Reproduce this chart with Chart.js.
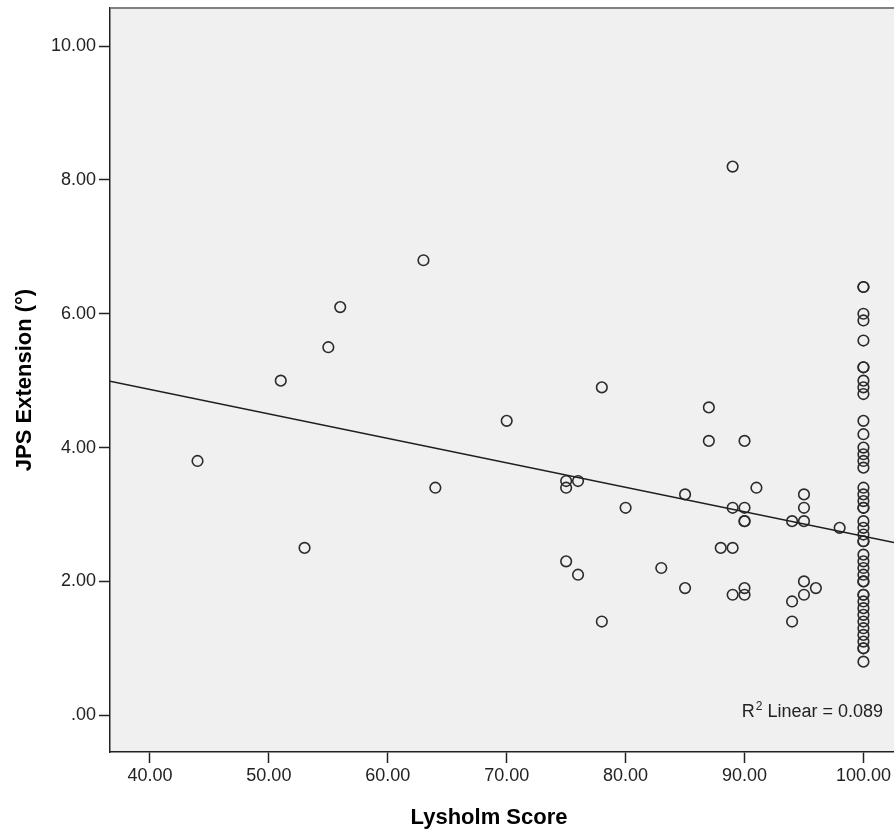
<!DOCTYPE html>
<html>
<head>
<meta charset="utf-8">
<script src="https://cdn.jsdelivr.net/npm/chart.js@4.4.1/dist/chart.umd.min.js"></script>
<style>
  html, body { margin: 0; padding: 0; background: #ffffff; }
  #wrap { width: 894px; height: 834px; }
</style>
</head>
<body>
<div id="wrap"><canvas id="scatterChart" width="894" height="834"></canvas></div>
<script>
// Lysholm score vs JPS extension
const lysholm = [
    44, 51, 53, 55, 56, 63, 64, 70, 75, 75, 75, 76, 76, 78, 78, 80, 83, 85, 85,
    87, 87, 88, 89, 89, 89, 89, 90, 90, 90, 90, 90, 90, 91, 94, 94, 94,
    95, 95, 95, 95, 95, 96, 98
];
const jpsExt = [
    3.8, 5.0, 2.5, 5.5, 6.1, 6.8, 3.4, 4.4, 3.5, 3.4, 2.3, 3.5, 2.1, 4.9, 1.4, 3.1, 2.2, 3.3, 1.9,
    4.6, 4.1, 2.5, 8.2, 3.1, 2.5, 1.8, 4.1, 3.1, 2.9, 2.9, 1.9, 1.8, 3.4, 2.9, 1.7, 1.4,
    3.3, 3.1, 2.9, 2.0, 1.8, 1.9, 2.8
];
// everyone with a full score of 100
const fullScoreJps = [
    6.4, 6.4, 6.0, 5.9, 5.6, 5.2, 5.2, 5.0, 4.9, 4.8, 4.4, 4.2, 4.0, 3.9, 3.8, 3.7,
    3.4, 3.3, 3.2, 3.1, 3.1, 2.9, 2.8, 2.7, 2.6, 2.6, 2.4, 2.3, 2.2, 2.1, 2.0, 2.0,
    1.8, 1.8, 1.7, 1.6, 1.5, 1.4, 1.3, 1.2, 1.1, 1.0, 1.0, 0.8
];

// fit line ends, at the edges of the plot
const fitX = [36.64, 102.57];
const fitY = [4.99, 2.58];

const xTicks = [40, 50, 60, 70, 80, 90, 100];
const yTicks = [0, 2, 4, 6, 8, 10];
const xRange = [36.64, 102.57];
const yRange = [-0.55, 10.57];

const rSquared = '0.089';

const points = lysholm.map((x, i) => ({ x: x, y: jpsExt[i] }))
    .concat(fullScoreJps.map(y => ({ x: 100, y: y })));
const fitLine = fitX.map((x, i) => ({ x: x, y: fitY[i] }));

const FONT = "'Liberation Sans', Arial, sans-serif";

function fmtTick(v) {
    return v === 0 ? '.00' : v.toFixed(2);
}

// no extra room for tick labels, the frame goes to the edges
function noPad(s) {
    s.paddingTop = 0;
    s.paddingBottom = 0;
    s.paddingLeft = 0;
    s.paddingRight = 0;
}

// background, frame top, titles and R2 note
const spssLook = {
    id: 'spssLook',
    beforeDraw(chart) {
        const { ctx, chartArea: a } = chart;
        ctx.save();
        ctx.fillStyle = '#f0f0f0';
        ctx.fillRect(a.left, a.top, a.right - a.left, a.bottom - a.top);
        ctx.restore();
    },
    afterDraw(chart) {
        const { ctx, chartArea: a } = chart;
        ctx.save();
        // top edge of the frame is grey
        ctx.strokeStyle = '#808080';
        ctx.lineWidth = 2;
        ctx.beginPath();
        ctx.moveTo(a.left, a.top);
        ctx.lineTo(a.right, a.top);
        ctx.stroke();

        // axis titles
        ctx.fillStyle = '#000';
        ctx.font = 'bold 22px ' + FONT;
        ctx.textAlign = 'center';
        ctx.textBaseline = 'alphabetic';
        ctx.fillText('Lysholm Score', 489, 824);

        ctx.translate(31, 380);
        ctx.rotate(-Math.PI / 2);
        ctx.fillText('JPS Extension (°)', 0, 0);
        ctx.setTransform(1, 0, 0, 1, 0, 0);

        // R2 Linear note
        const right = a.right - 11;
        const base = a.bottom - 35;
        ctx.fillStyle = '#222';
        ctx.textAlign = 'right';
        ctx.font = '18px ' + FONT;
        const rest = ' Linear = ' + rSquared;
        ctx.fillText(rest, right, base);
        let x = right - ctx.measureText(rest).width;
        ctx.font = '12px ' + FONT;
        ctx.fillText('2', x, base - 7);
        x -= ctx.measureText('2').width + 1;
        ctx.font = '18px ' + FONT;
        ctx.fillText('R', x, base);
        ctx.restore();
    }
};

const ctx = document.getElementById('scatterChart').getContext('2d');

const chart = new Chart(ctx, {
    type: 'scatter',
    data: {
        datasets: [
            {
                label: 'Linear fit',
                data: fitLine,
                showLine: true,
                borderColor: '#1e1e1e',
                borderWidth: 1.5,
                pointRadius: 0,
                fill: false
            },
            {
                label: 'JPS Extension',
                data: points,
                pointRadius: 5.3,
                pointBorderWidth: 1.6,
                pointBorderColor: '#2b2b2b',
                pointBackgroundColor: 'rgba(0,0,0,0)'
            }
        ]
    },
    options: {
        responsive: false,
        animation: false,
        layout: { autoPadding: false, padding: { top: 8, right: 0, left: 0, bottom: 0 } },
        plugins: {
            legend: { display: false },
            tooltip: { enabled: false }
        },
        scales: {
            x: {
                type: 'linear',
                min: xRange[0],
                max: xRange[1],
                afterBuildTicks: s => { s.ticks = xTicks.map(v => ({ value: v })); },
                afterFit: s => { s.height = 82; noPad(s); },
                ticks: {
                    callback: fmtTick,
                    color: '#222',
                    font: { family: FONT, size: 18 },
                    padding: 2,
                    maxRotation: 0
                },
                grid: {
                    drawOnChartArea: false,
                    drawTicks: true,
                    tickLength: 11,
                    tickColor: '#222',
                    tickWidth: 1.5
                },
                border: { display: true, color: '#222', width: 1.5 }
            },
            y: {
                type: 'linear',
                min: yRange[0],
                max: yRange[1],
                afterBuildTicks: s => { s.ticks = yTicks.map(v => ({ value: v })); },
                afterFit: s => { s.width = 110; noPad(s); },
                ticks: {
                    callback: fmtTick,
                    color: '#222',
                    font: { family: FONT, size: 18 },
                    padding: 3
                },
                grid: {
                    drawOnChartArea: false,
                    drawTicks: true,
                    tickLength: 11,
                    tickColor: '#222',
                    tickWidth: 1.5
                },
                border: { display: true, color: '#222', width: 1.5 }
            }
        }
    },
    plugins: [spssLook]
});
</script>
</body>
</html>
